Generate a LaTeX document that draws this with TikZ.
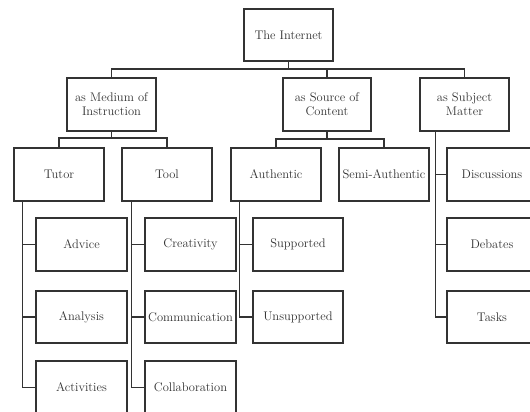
\documentclass[tikz,border=0pt]{standalone}
\usetikzlibrary{calc}
\definecolor{ink}{HTML}{333333}
\begin{document}
\begin{tikzpicture}[x=1pt,y=-1pt,
  box/.style={draw=ink, line width=1.5pt, text=ink, align=center, inner sep=1pt,
    font=\fontsize{12.5}{14}\selectfont, minimum width=#1, minimum height=53},
  box/.default=90,
  conn/.style={draw=ink, line width=1.5pt}]
\clip (0,0) rectangle (530,412);
\fill[white] (0,0) rectangle (530,412);
% level 0
\node[box=89, minimum height=52] (inet) at (288.5,35) {The Internet};
% level 1
\node[box=89] (med) at (111.5,104.5) {as Medium of\\Instruction};
\node[box=88] (src) at (327,104.5) {as Source of\\Content};
\node[box=89] (subj) at (464.5,104.5) {as Subject\\Matter};
% level 2
\node[box] (tutor) at (59,174.5) {Tutor};
\node[box] (tool) at (167,174.5) {Tool};
\node[box] (auth) at (276,174.5) {Authentic};
\node[box] (semi) at (384,174.5) {Semi-Authentic};
\node[box] (disc) at (492,174.5) {Discussions};
% level 3
\node[box=91] (advice) at (81.5,244.5) {Advice};
\node[box=91] (creat) at (190.5,244.5) {Creativity};
\node[box=90] (supp) at (298,244.5) {Supported};
\node[box=90] (deb) at (492,244.5) {Debates};
\node[box=91, minimum height=52] (anal) at (81.5,317) {Analysis};
\node[box=91, minimum height=52] (comm) at (190.5,317) {Communication};
\node[box=90, minimum height=52] (unsup) at (298,317) {Unsupported};
\node[box=90, minimum height=52] (tasks) at (492,317) {Tasks};
\node[box=91] (act) at (81.5,387.5) {Activities};
\node[box=91] (coll) at (190.5,387.5) {Collaboration};
% buses
\coordinate (b0) at (0,69);
\coordinate (b1) at (0,138);
\coordinate (b2) at (0,139);
\draw[conn] (inet.south) -- (inet.south |- b0);
\draw[conn] (med.north) -- (med.north |- b0) -- (subj.north |- b0) -- (subj.north);
\draw[conn] (src.north) -- (src.north |- b0);
\draw[conn] (med.south) -- (med.south |- b1);
\draw[conn] (tutor.north) -- (tutor.north |- b1) -- (tool.north |- b1) -- (tool.north);
\draw[conn] (src.south) -- (src.south |- b2);
\draw[conn] (auth.north) -- (auth.north |- b2) -- (semi.north |- b2) -- (semi.north);
% side lines
\coordinate (tl) at ($(tutor.south west)+(9,0)$);
\coordinate (ol) at ($(tool.south west)+(10,0)$);
\coordinate (al) at ($(auth.south west)+(9,0)$);
\coordinate (sl) at ($(subj.south west)+(16,0)$);
\draw[conn] (tl) |- (act.west);
\draw[conn] (advice.west) -- (advice.west -| tl);
\draw[conn] (anal.west) -- (anal.west -| tl);
\draw[conn] (ol) |- (coll.west);
\draw[conn] (creat.west) -- (creat.west -| ol);
\draw[conn] (comm.west) -- (comm.west -| ol);
\draw[conn] (al) |- (unsup.west);
\draw[conn] (supp.west) -- (supp.west -| al);
\draw[conn] (sl) |- (tasks.west);
\draw[conn] (disc.west) -- (disc.west -| sl);
\draw[conn] (deb.west) -- (deb.west -| sl);
\end{tikzpicture}
\end{document}
